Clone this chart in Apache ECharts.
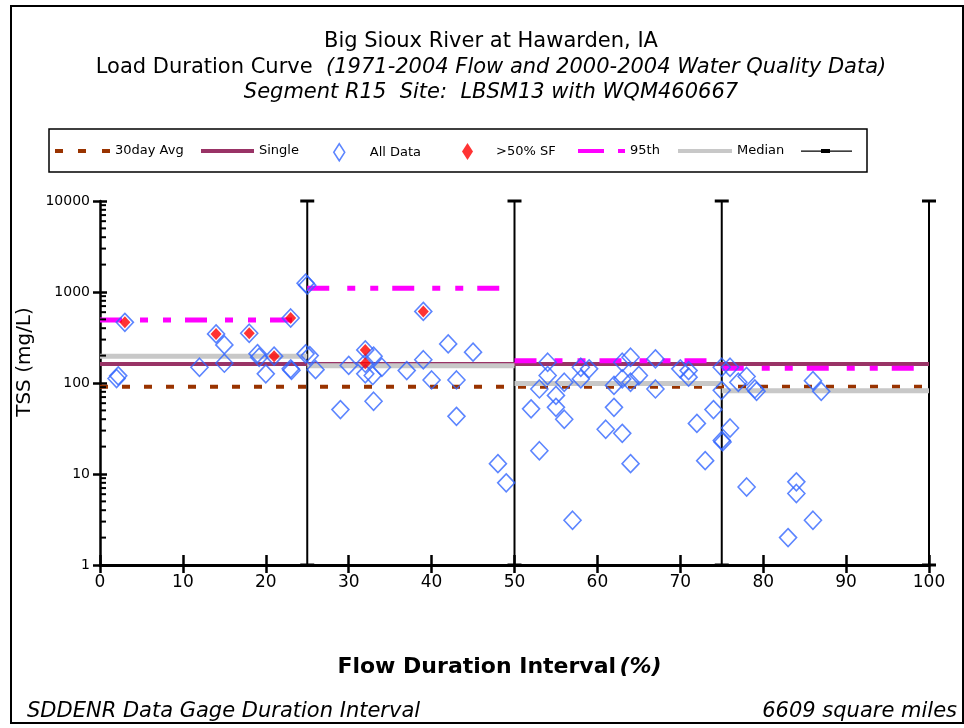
<!DOCTYPE html>
<html><head><meta charset="utf-8">
<script src="https://cdn.jsdelivr.net/npm/echarts@6/dist/echarts.min.js"></script>
<style>html,body{margin:0;padding:0;background:#fff}#c{width:964px;height:728px}</style>
</head><body><div id="c"></div>
<script>
// ---------- data ----------
const titleLine1 = 'Big Sioux River at Hawarden, IA';
const titleLine2a = 'Load Duration Curve';
const titleLine2b = '(1971-2004 Flow and 2000-2004 Water Quality Data)';
const titleLine3 = 'Segment R15  Site:  LBSM13 with WQM460667';
const footLeft = 'SDDENR Data Gage Duration Interval';
const footRight = '6609 square miles';
const xName = 'Flow Duration Interval';
const yName = 'TSS (mg/L)';

const xTicks = [0, 10, 20, 30, 40, 50, 60, 70, 80, 90, 100];
const yTicks = [1, 10, 100, 1000, 10000];
const binEdges = [0, 25, 50, 75, 100];

const avg30 = 91;          // 30day Avg
const single = 162;        // Single
const p95 = [492, 1097, 176, 145];   // 95th per bin
const median = [197, 155, 99, 82];   // Median per bin

// All Data (TSS samples)
const allX = [2, 2.2, 3, 12, 14, 15, 15, 18, 19, 19.2, 20, 21, 23, 23.1, 23, 24.8, 25, 24.8,
  25.3, 26, 29, 30, 32, 32, 32, 33, 32.9, 34, 33, 37, 39, 39, 40, 42, 43, 43, 45, 48, 49,
  52, 53, 53, 54, 54, 55, 55, 56, 56, 57, 58, 58, 59, 61, 62, 62, 63, 63, 63, 64, 64, 64, 65, 67, 67,
  70, 71, 71, 72, 73, 74, 75, 75, 75, 75.1,
  76, 76, 77, 78, 78, 79, 79.2, 83, 84, 84, 86, 86, 87];
const allY = [112, 120, 464, 149, 346, 262, 165, 352, 210, 192, 126, 197, 143, 138, 518, 1250, 1190, 209,
  200, 140, 51, 156, 231, 165, 126, 197, 121, 149, 63, 137, 180, 612, 108, 269, 108, 43, 218, 13, 8,
  52, 86, 18, 169, 121, 73, 54, 102, 40, 3.1, 149, 111, 143, 31, 94, 54, 169, 111, 28, 192, 102, 13, 121, 184, 86,
  143, 137, 116, 36, 14, 51, 149, 83, 23.4, 22.5,
  149, 32, 102, 118, 7.2, 86, 81, 2.0, 8.2, 6.1, 106, 3.1, 81];

// >50% SF samples
const sfX = [3, 14, 18, 21, 23, 32, 32, 39];
const sfY = [464, 346, 352, 197, 518, 231, 165, 612];

// zone separators (error-bar style)
const barX = [25, 50, 75, 100];
const barLow = 1;
const barHigh = 10000;

// log minor ticks
const minorDecades = [1, 10, 100, 1000];
const minorMult = [2, 3, 4, 5, 6, 7, 8, 9];

// ---------- build ----------
const FONT = 'DejaVu Sans';
function steps(vals) {
  const d = [];
  vals.forEach((v, i) => {
    d.push([binEdges[i], v], [binEdges[i + 1], v]);
    if (i < vals.length - 1) d.push([binEdges[i + 1], '-']);
  });
  return d;
}
const allData = allX.map((x, i) => [x, allY[i]]);
const sfData = sfX.map((x, i) => [x, sfY[i]]);
const barData = barX.map(x => [x, barLow, barHigh]);
const minorData = [];
minorDecades.forEach(d => minorMult.forEach(m => minorData.push([0, d * m])));

const chart = echarts.init(document.getElementById('c'), null, {renderer: 'canvas'});
const legendText = {color: '#000', fontSize: 13, fontFamily: FONT, lineHeight: 16};
function leg(name, left, icon, w, h, extra) {
  return {
    show: true, data: [Object.assign({name: name, icon: icon}, extra && extra.item ? {itemStyle: extra.item} : {})],
    left: left, top: 143, padding: 0, itemWidth: w, itemHeight: h,
    selectedMode: false,
    textStyle: Object.assign({}, legendText, extra && extra.pad ? {padding: [0, 0, 0, extra.pad]} : {})
  };
}
const TS = 21;
function ttl(text, top, italic) {
  return {text: text, left: 491, textAlign: 'center', top: top, padding: 0,
    textStyle: {fontFamily: FONT, fontSize: TS, fontWeight: 'normal', fontStyle: italic ? 'italic' : 'normal', color: '#000', lineHeight: 22}};
}

const option = {
  backgroundColor: '#fff',
  animation: false,
  title: [
    ttl(titleLine1, 31, false),
    {text: '{n|' + titleLine2a + '}  {i|' + titleLine2b + '}', left: 491, textAlign: 'center', top: 57, padding: 0,
      textStyle: {fontFamily: FONT, fontSize: TS, fontWeight: 'normal', color: '#000', lineHeight: 22,
        rich: {n: {fontFamily: FONT, fontSize: TS, fontWeight: 'normal', color: '#000'},
               i: {fontFamily: FONT, fontSize: TS, fontWeight: 'normal', fontStyle: 'italic', color: '#000'}}}},
    ttl(titleLine3, 82, true),
    {text: footLeft, left: 27, top: 701, padding: 0,
      textStyle: {fontFamily: FONT, fontSize: TS, fontWeight: 'normal', fontStyle: 'italic', color: '#000', lineHeight: 22}},
    {text: footRight, right: 7, top: 701, padding: 0,
      textStyle: {fontFamily: FONT, fontSize: TS, fontWeight: 'normal', fontStyle: 'italic', color: '#000', lineHeight: 22}}
  ],
  legend: [
    leg('30day Avg', 55, 'path://M0,0h8v4h-8z M23,0h8v4h-8z M47,0h8v4h-8z', 55, 4, {item: {borderWidth: 0}}),
    leg('Single', 201, 'rect', 53, 4, {item: {borderWidth: 0}}),
    leg('All Data', 333, 'diamond', 11, 17, {item: {color: 'rgba(0,0,0,0)', borderColor: '#3366ff', borderWidth: 1.5}, pad: 20}),
    leg('>50% SF', 462, 'diamond', 11, 17, {item: {borderWidth: 0}, pad: 18}),
    leg('95th', 578, 'path://M0,0h26v4h-26z M40,0h7v4h-7z', 47, 4, {item: {borderWidth: 0}}),
    leg('Median', 678, 'rect', 54, 4, {item: {borderWidth: 0}}),
    leg(' ', 801, 'path://M0,1.5h51v1.2h-51z M20,0h9v4h-9z', 51, 4, {item: {borderWidth: 0}})
  ],
  graphic: [
    {type: 'rect', shape: {x: 11, y: 6, width: 952, height: 717}, style: {fill: 'none', stroke: '#000', lineWidth: 2}, silent: true, z: -1},
    {type: 'rect', shape: {x: 49, y: 129, width: 818, height: 43}, style: {fill: 'none', stroke: '#000', lineWidth: 1.5}, silent: true, z: -1}
  ],
  grid: {left: 100, top: 201, width: 829, height: 364, containLabel: false},
  xAxis: [
    {type: 'value', min: 0, max: 100, interval: 10, position: 'bottom',
      name: '{n|' + xName + '} {i|(%)}', nameLocation: 'middle', nameGap: 91,
      nameTextStyle: {padding: [0, 30, 0, 0], rich: {
        n: {fontFamily: FONT, fontSize: 22, fontWeight: 'bold', color: '#000'},
        i: {fontFamily: FONT, fontSize: 22, fontWeight: 'bold', fontStyle: 'italic', color: '#000'}}},
      axisLine: {show: true, lineStyle: {color: '#000', width: 3}},
      axisTick: {show: true, inside: false, length: 8, lineStyle: {color: '#000', width: 2.5}},
      axisLabel: {margin: 9, fontFamily: FONT, fontSize: 17, color: '#000'},
      splitLine: {show: false}},
    {type: 'value', min: 0, max: 100, interval: 10, position: 'bottom',
      axisLine: {show: false}, axisLabel: {show: false}, splitLine: {show: false},
      axisTick: {show: true, inside: true, length: 10, lineStyle: {color: '#000', width: 2.5}}}
  ],
  yAxis: [
    {type: 'log', logBase: 10, min: 1, max: 10000, position: 'left',
      name: yName, nameLocation: 'middle', nameGap: 50, nameRotate: 90,
      nameTextStyle: {fontFamily: FONT, fontSize: 20, color: '#000', padding: [0, 0, 0, 42]},
      axisLine: {show: true, lineStyle: {color: '#000', width: 2.5}},
      axisTick: {show: true, inside: false, length: 7, lineStyle: {color: '#000', width: 2.5}},
      axisLabel: {margin: 10, fontFamily: FONT, fontSize: 14, color: '#000',
        formatter: v => String(Math.round(v))},
      splitLine: {show: false}, minorTick: {show: false}},
    {type: 'log', logBase: 10, min: 1, max: 10000, position: 'left',
      axisLine: {show: false}, axisLabel: {show: false}, splitLine: {show: false},
      axisTick: {show: true, inside: true, length: 7, lineStyle: {color: '#000', width: 2.5}}}
  ],
  series: [
    {name: 'minor', type: 'custom', silent: true, data: minorData, clip: false, z: 3,
      encode: {x: 0, y: 1},
      renderItem: (params, api) => {
        const p = api.coord([api.value(0), api.value(1)]);
        return {type: 'line', shape: {x1: p[0], y1: p[1], x2: p[0] + 6, y2: p[1]}, style: {stroke: '#000', lineWidth: 2}};
      }},
    {name: '30day Avg', type: 'line', color: '#993300', symbol: 'none', silent: true, z: 2,
      data: [[binEdges[0], avg30], [binEdges[binEdges.length - 1], avg30]],
      lineStyle: {color: '#993300', width: 4, type: [8, 14]}},
    {name: 'Single', type: 'line', color: '#993366', symbol: 'none', silent: true, z: 2,
      data: [[binEdges[0], single], [binEdges[binEdges.length - 1], single]],
      lineStyle: {color: '#993366', width: 4}},
    {name: 'Median', type: 'line', color: '#c8c8c8', symbol: 'none', silent: true, z: 2,
      data: steps(median), connectNulls: false,
      lineStyle: {color: '#c8c8c8', width: 5}},
    {name: '95th', type: 'line', color: '#ff00ff', symbol: 'none', silent: true, z: 2,
      data: steps(p95), connectNulls: false,
      lineStyle: {color: '#ff00ff', width: 5, type: [22, 18, 8, 15, 8, 14]}},
    {name: ' ', type: 'custom', color: '#000', silent: true, z: 2, clip: false,
      data: barData, encode: {x: 0, y: [1, 2]},
      renderItem: (params, api) => {
        const x = api.value(0);
        const t = api.coord([x, api.value(2)]);
        const b = api.coord([x, api.value(1)]);
        const c = 7;
        return {type: 'group', children: [
          {type: 'line', shape: {x1: t[0], y1: t[1], x2: b[0], y2: b[1]}, style: {stroke: '#000', lineWidth: 2}},
          {type: 'line', shape: {x1: t[0] - c, y1: t[1], x2: t[0] + c, y2: t[1]}, style: {stroke: '#000', lineWidth: 3}},
          {type: 'line', shape: {x1: b[0] - c, y1: b[1], x2: b[0] + c, y2: b[1]}, style: {stroke: '#000', lineWidth: 3}}
        ]};
      }},
    {name: 'All Data', type: 'scatter', symbol: 'diamond', symbolSize: [17, 18], z: 4, silent: true,
      data: allData, itemStyle: {color: 'rgba(0,0,0,0)', borderColor: '#3366ff', borderWidth: 1.6}},
    {name: '>50% SF', type: 'scatter', symbol: 'diamond', symbolSize: [11, 12], z: 5, silent: true,
      color: '#ff0000', data: sfData, itemStyle: {color: '#ff0000'}}
  ]
};
chart.setOption(option);
</script>
</body></html>
